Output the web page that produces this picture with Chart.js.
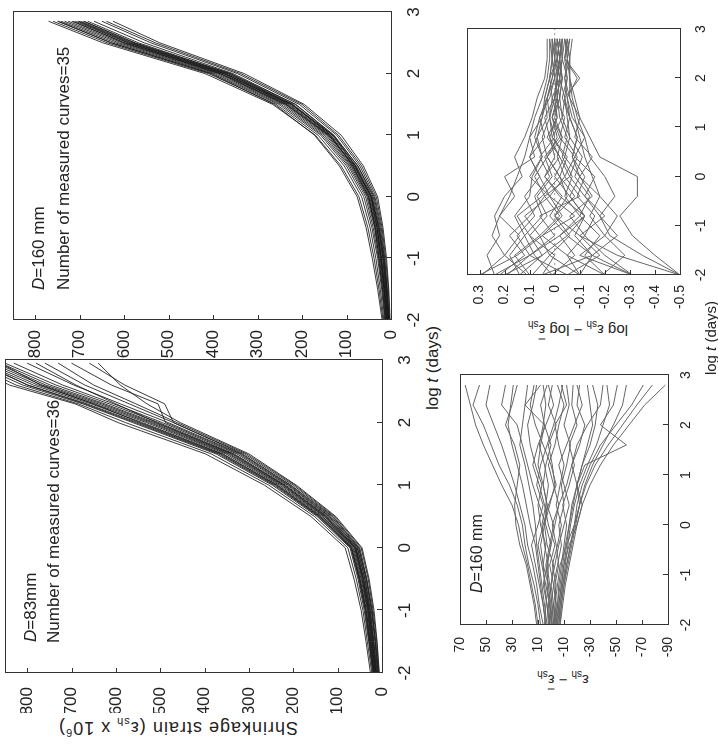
<!DOCTYPE html>
<html>
<head>
<meta charset="utf-8">
<title>Shrinkage strain curves</title>
<script src="https://cdn.jsdelivr.net/npm/chart.js@4.4.1/dist/chart.umd.min.js"></script>
<style>
  html, body { margin: 0; padding: 0; background: #fff; overflow: hidden; }
  /* the scanned page lies a quarter turn anticlockwise */
  #page { position: absolute; left: 0; top: 0; width: 744px; height: 718px;
          transform-origin: 0 0; transform: translate(0, 744px) rotate(-90deg);
          font-family: 'Liberation Sans', Arial, sans-serif; color: #222; }
  #page canvas { position: absolute; }
  .txt { position: absolute; white-space: nowrap; line-height: 1; }
  .vt { transform: translate(-50%, -50%) rotate(-90deg); }
  .ht { transform: translate(-50%, -50%); }
</style>
</head>
<body>
<div id="page">
  <canvas id="c83" width="359" height="419" style="left:31px;top:-7px"></canvas>
  <canvas id="c160" width="354" height="420" style="left:384px;top:1px"></canvas>
  <canvas id="cDev" width="296" height="250" style="left:79px;top:448px"></canvas>
  <canvas id="cLog" width="292" height="255" style="left:429px;top:455px"></canvas>

  <div class="txt" style="left:102px;top:22px;font-size:17px"><i>D</i>=83mm</div>
  <div class="txt" style="left:101px;top:45px;font-size:17px">Number of measured curves=36</div>
  <div class="txt" style="left:454px;top:30px;font-size:17px"><i>D</i>=160 mm</div>
  <div class="txt" style="left:454px;top:55px;font-size:17px">Number of measured curves=35</div>
  <div class="txt" style="left:151px;top:469px;font-size:16px"><i>D</i>=160 mm</div>

  <div class="txt vt" style="left:17px;top:178px;font-size:18px;letter-spacing:1px">Shrinkage strain (ε<sub style="font-size:11px">sh</sub> x 10<sup style="font-size:11px">6</sup>)</div>
  <div class="txt ht" style="left:376px;top:432px;font-size:17px">log <i>t</i> (days)</div>
  <div class="txt vt" style="left:66px;top:563px;font-size:15px">ε<sub style="font-size:10px">sh</sub> − <span style="text-decoration:overline">ε</span><sub style="font-size:10px">sh</sub></div>
  <div class="txt vt" style="left:416px;top:578px;font-size:15px">log ε<sub style="font-size:10px">sh</sub> − log <span style="text-decoration:overline">ε</span><sub style="font-size:10px">sh</sub></div>
  <div class="txt ht" style="left:406px;top:710px;font-size:15px">log <i>t</i> (days)</div>
</div>

<script>
// time axis (log days) used by the curves
const logT160 = [-2, -1.5, -1, -0.5, 0, 0.5, 1, 1.5, 2, 2.5, 2.85];
const logT83 = [-2, -1.5, -1, -0.5, 0, 0.5, 1, 1.5, 2, 2.3, 2.6, 2.95];
const logTDev = [-2, -1.6, -1.2, -0.8, -0.4, 0, 0.4, 0.8, 1.2, 1.6, 2, 2.4, 2.8];

// tick labels
const logTTicks = [-2, -1, 0, 1, 2, 3];
const strainTicks = [0, 100, 200, 300, 400, 500, 600, 700, 800];
const devTicks = [-90, -70, -50, -30, -10, 10, 30, 50, 70];
const logDevTicks = [-0.5, -0.4, -0.3, -0.2, -0.1, 0, 0.1, 0.2, 0.3];

// D = 83 mm, shrinkage strain x 1e6
const strain83 = [
  [8, 14, 22, 34, 50, 110, 200, 310, 470, 570, 670, 760],
  [10, 16, 24, 36, 53, 115, 207, 318, 482, 590, 695, 800],
  [12, 19, 27, 39, 56, 120, 213, 327, 495, 605, 720, 830],
  [13, 20, 28, 41, 58, 123, 217, 333, 503, 615, 735, 850],
  [14, 22, 30, 43, 60, 127, 221, 339, 512, 625, 748, 860],
  [15, 23, 31, 44, 61, 129, 224, 343, 518, 632, 758, 870],
  [16, 24, 32, 45, 62, 131, 227, 347, 524, 640, 766, 880],
  [17, 25, 33, 47, 64, 134, 231, 352, 531, 648, 776, 890],
  [18, 26, 35, 49, 66, 137, 235, 358, 540, 656, 786, 900],
  [19, 28, 37, 51, 69, 141, 240, 365, 550, 665, 798, 910],
  [21, 30, 40, 54, 72, 146, 247, 374, 562, 675, 810, 920],
  [23, 33, 43, 58, 77, 152, 255, 385, 578, 685, 825, 930],
  [26, 36, 47, 63, 83, 160, 265, 398, 595, 692, 840, 940],
  [6, 11, 18, 29, 45, 104, 193, 300, 455, 530, 590, 640],
  [9, 15, 23, 35, 52, 112, 205, 315, 470, 490, 580, 660],
  [11, 18, 26, 38, 55, 118, 210, 322, 488, 505, 610, 700],
  [14, 21, 29, 42, 59, 125, 220, 336, 508, 600, 690, 780],
  [18, 27, 36, 50, 68, 139, 237, 361, 545, 650, 770, 860],
  [20, 29, 38, 52, 70, 143, 243, 369, 556, 670, 800, 900],
  [7, 12, 20, 31, 47, 107, 196, 305, 462, 555, 650, 730]
];

// D = 160 mm, shrinkage strain x 1e6
const strain160 = [
  [2, 5, 10, 18, 30, 62, 112, 195, 330, 520, 625],
  [4, 8, 14, 22, 36, 70, 122, 206, 345, 540, 650],
  [5, 10, 16, 26, 40, 75, 128, 214, 355, 555, 668],
  [6, 11, 18, 28, 42, 78, 132, 220, 362, 568, 682],
  [7, 12, 19, 29, 44, 80, 135, 224, 368, 578, 692],
  [8, 13, 21, 31, 46, 83, 138, 228, 372, 586, 702],
  [8, 14, 22, 32, 48, 85, 140, 231, 376, 592, 710],
  [9, 15, 23, 34, 50, 88, 143, 234, 380, 598, 718],
  [10, 16, 24, 35, 52, 90, 146, 238, 385, 605, 726],
  [11, 17, 26, 37, 54, 93, 150, 242, 390, 612, 734],
  [12, 19, 28, 40, 57, 96, 154, 247, 396, 620, 742],
  [14, 21, 30, 43, 61, 100, 158, 252, 402, 628, 750],
  [16, 24, 34, 47, 66, 105, 164, 258, 410, 638, 760],
  [18, 27, 38, 52, 72, 112, 170, 266, 418, 648, 770],
  [3, 6, 12, 20, 33, 66, 118, 200, 338, 530, 640],
  [6, 10, 17, 27, 44, 82, 140, 236, 384, 600, 715],
  [10, 15, 22, 31, 45, 80, 130, 215, 360, 575, 690],
  [13, 19, 27, 36, 50, 86, 136, 222, 366, 582, 698],
  [20, 30, 42, 56, 76, 116, 172, 262, 405, 630, 748],
  [5, 9, 15, 24, 38, 74, 130, 225, 375, 590, 705]
];

// D = 160 mm, deviation from the mean curve
const dev160 = [
  [10, 12, 15, 18, 22, 25, 30, 38, 45, 52, 58, 62, 66],
  [8, 10, 13, 17, 20, 22, 26, 32, 40, 46, 52, 60, 55],
  [6, 9, 11, 14, 18, 20, 24, 28, 33, 38, 44, 50, 47],
  [4, 6, 8, 10, 12, 16, 19, 22, 26, 30, 33, 31, 29],
  [11, 13, 16, 19, 24, 27, 28, 26, 24, 28, 35, 30, 26],
  [3, 5, 7, 9, 11, 12, 14, 17, 20, 24, 22, 20, 18],
  [2, 3, 5, 6, 4, 8, 10, 7, 12, 16, 18, 14, 11],
  [5, 4, 2, 6, 8, 5, 3, 6, 10, 8, 5, 20, 8],
  [0, 1, 3, 2, 5, 7, 4, 2, 5, 9, 6, 4, 6],
  [-1, 0, 2, 4, 1, -2, 3, 6, 4, 0, 5, 8, 3],
  [1, 2, 0, -2, 3, 5, 1, -3, -1, 2, -4, 2, -1],
  [-2, -1, 1, 3, 0, -3, -6, -2, 2, -3, -6, -10, -5],
  [0, -2, -4, -1, -5, -8, -4, -7, -10, -6, -3, -12, -8],
  [-3, -4, -2, -5, -8, -6, -10, -8, -12, -15, -10, -14, -12],
  [-4, -5, -6, -8, -10, -12, -9, -14, -18, -14, -20, -16, -17],
  [-2, -3, -5, -7, -12, -18, -22, -20, -16, -22, -26, -20, -22],
  [-5, -6, -8, -10, -14, -20, -24, -20, -24, -28, -32, -30, -28],
  [-3, -5, -7, -9, -11, -14, -17, -20, -24, -30, -34, -36, -32],
  [-6, -7, -9, -11, -13, -15, -18, -22, -28, -35, -40, -45, -43],
  [-4, -6, -8, -10, -12, -14, -16, -20, -26, -58, -38, -48, -51],
  [-7, -8, -10, -12, -15, -18, -22, -26, -32, -40, -48, -55, -58],
  [-5, -7, -9, -12, -15, -18, -20, -24, -30, -38, -50, -62, -71],
  [-6, -8, -10, -13, -16, -19, -22, -27, -34, -44, -55, -66, -78],
  [-7, -9, -11, -14, -17, -20, -24, -30, -38, -48, -60, -72, -88],
  [2, 0, -2, 1, -3, 2, 5, 9, 14, 10, 4, -2, 2],
  [-1, 1, 4, 7, 10, 6, 2, -4, 0, 6, 12, 16, 13],
  [4, 6, 9, 12, 15, 10, 6, 11, 8, 3, -2, -6, -9],
  [-3, -2, 0, -3, -6, -10, -14, -10, -6, -12, -18, -24, -20],
  [1, 3, 6, 3, 0, 4, 9, 14, 18, 22, 26, 38, 35],
  [-2, -4, -3, -6, -4, -1, -6, -12, -16, -20, -28, -38, -40]
];

// D = 160 mm, log strain minus log mean strain
const logDev160 = [
  [0.29, 0.20, 0.25, 0.22, 0.18, 0.15, 0.12, 0.10, 0.08, 0.05, 0.03, 0.02, 0.02],
  [0.24, 0.27, 0.22, 0.24, 0.20, 0.13, 0.16, 0.12, 0.09, 0.07, 0.04, 0.03, 0.03],
  [0.19, 0.10, 0.15, 0.08, 0.12, 0.06, 0.10, 0.07, 0.05, 0.04, 0.02, 0.01, 0.01],
  [0.14, 0.18, 0.12, 0.16, 0.10, 0.09, 0.05, 0.08, 0.06, 0.03, 0.01, 0.00, 0.00],
  [0.09, 0.02, 0.06, -0.02, 0.04, 0.08, 0.03, 0.05, 0.02, 0.03, 0.01, -0.01, 0.00],
  [0.14, 0.05, -0.05, 0.02, -0.03, 0.04, 0.00, 0.02, 0.04, 0.00, -0.01, -0.02, -0.01],
  [0.01, 0.08, 0.12, 0.05, 0.08, 0.02, 0.06, 0.00, 0.02, 0.01, 0.02, -0.01, -0.02],
  [0.01, -0.08, -0.02, -0.10, -0.04, -0.07, -0.03, -0.05, -0.02, -0.01, -0.02, -0.03, -0.02],
  [-0.10, 0.02, -0.06, 0.00, -0.08, -0.02, -0.05, 0.01, -0.03, -0.02, -0.03, -0.02, -0.03],
  [-0.10, -0.15, -0.08, -0.12, -0.06, -0.10, -0.04, -0.06, -0.03, -0.04, -0.02, -0.03, -0.04],
  [-0.20, -0.05, 0.05, -0.03, 0.02, -0.04, -0.01, -0.03, 0.00, -0.02, -0.01, -0.02, -0.03],
  [-0.20, -0.12, -0.18, -0.10, -0.14, -0.08, -0.11, -0.06, -0.05, -0.04, -0.05, -0.04, -0.05],
  [-0.31, -0.20, -0.12, -0.16, -0.09, -0.12, -0.07, -0.09, -0.06, -0.05, -0.04, -0.05, -0.04],
  [-0.31, -0.10, -0.20, -0.14, -0.18, -0.15, -0.12, -0.10, -0.08, -0.06, -0.06, -0.05, -0.06],
  [-0.50, -0.25, -0.10, 0.00, -0.05, -0.02, 0.03, -0.01, 0.01, -0.01, -0.02, -0.01, -0.02],
  [-0.50, -0.35, -0.22, -0.18, -0.24, -0.20, -0.14, -0.12, -0.09, -0.07, -0.06, -0.06, -0.07],
  [-0.50, -0.40, -0.31, -0.26, -0.33, -0.33, -0.18, -0.14, -0.10, -0.08, -0.06, -0.06, -0.05],
  [0.30, 0.15, 0.05, -0.08, 0.02, 0.06, 0.10, 0.04, 0.06, 0.02, 0.00, 0.01, 0.00],
  [0.22, 0.12, 0.18, 0.10, 0.04, -0.06, -0.02, 0.03, -0.01, 0.01, -0.02, 0.00, -0.01],
  [0.11, 0.20, 0.14, 0.22, 0.16, 0.20, 0.08, 0.10, 0.05, 0.03, 0.00, 0.01, 0.01],
  [0.05, -0.15, -0.25, -0.18, -0.12, -0.16, -0.08, -0.12, -0.07, -0.05, -0.09, -0.04, -0.05],
  [-0.05, 0.10, 0.00, 0.06, -0.10, -0.04, -0.08, -0.02, -0.04, 0.00, -0.03, -0.01, -0.02],
  [-0.19, -0.28, -0.20, -0.25, -0.18, -0.10, -0.15, -0.08, -0.10, -0.06, -0.04, -0.06, -0.04],
  [0.24, 0.10, -0.02, -0.12, -0.06, 0.00, -0.04, 0.01, 0.02, 0.00, -0.01, 0.00, 0.01],
  [-0.10, -0.05, -0.12, -0.06, -0.15, -0.10, -0.07, -0.09, -0.06, -0.04, -0.10, -0.04, -0.06],
  [0.20, 0.05, 0.10, 0.03, 0.07, 0.01, 0.04, -0.02, 0.01, -0.01, 0.00, -0.02, -0.01],
  [-0.05, -0.18, -0.10, -0.20, -0.12, -0.06, -0.09, -0.04, -0.06, -0.03, -0.05, -0.03, -0.03],
  [0.10, 0.16, 0.06, 0.12, 0.02, 0.10, 0.05, 0.07, 0.03, 0.04, 0.02, 0.01, 0.02],
  [-0.31, -0.15, -0.05, -0.12, -0.02, 0.04, -0.02, 0.02, -0.01, 0.00, -0.01, -0.02, -0.01],
  [0.05, 0.00, 0.10, 0.15, 0.05, -0.02, 0.03, -0.03, 0.01, -0.02, -0.03, -0.02, -0.03]
];
const zeroLine = [0, 0];

// box round the plot plus short ticks pointing inwards
const frame = {
  id: 'frame',
  afterDatasetsDraw(chart) {
    const { ctx, chartArea: a, scales: { x, y } } = chart;
    ctx.save();
    ctx.strokeStyle = '#333';
    ctx.lineWidth = 1;
    ctx.strokeRect(Math.round(a.left) + 0.5, Math.round(a.top) + 0.5, Math.round(a.width), Math.round(a.height));
    ctx.beginPath();
    x.ticks.forEach(t => {
      const p = Math.round(x.getPixelForValue(t.value)) + 0.5;
      ctx.moveTo(p, a.bottom);
      ctx.lineTo(p, a.bottom - 5);
    });
    y.ticks.forEach(t => {
      const p = Math.round(y.getPixelForValue(t.value)) + 0.5;
      ctx.moveTo(a.left, p);
      ctx.lineTo(a.left + 5, p);
    });
    ctx.stroke();
    ctx.restore();
  }
};

function makePanel(id, times, curves, cfg) {
  const sets = curves.map(c => ({
    data: c.map((v, i) => ({ x: times[i], y: v })),
    borderColor: cfg.color,
    borderWidth: 1,
    pointRadius: 0,
    tension: 0,
    fill: false
  }));
  if (cfg.zero) {
    sets.push({
      data: [{ x: -2, y: zeroLine[0] }, { x: 3, y: zeroLine[1] }],
      borderColor: '#999', borderWidth: 1, borderDash: [2, 3], pointRadius: 0, fill: false
    });
  }
  const font = { family: "'Liberation Sans', Arial, sans-serif", size: cfg.font };
  return new Chart(document.getElementById(id), {
    type: 'line',
    data: { datasets: sets },
    options: {
      responsive: false,
      animation: false,
      events: [],
      layout: { autoPadding: false, padding: { top: 12, right: 6, left: 0, bottom: 0 } },
      plugins: { legend: { display: false }, tooltip: { enabled: false } },
      scales: {
        x: {
          type: 'linear', min: -2, max: 3,
          grid: { display: false }, border: { display: false },
          afterBuildTicks: s => { s.ticks = logTTicks.map(v => ({ value: v })); },
          afterFit: s => { s.height = 30; s.paddingLeft = 0; s.paddingRight = 0; },
          ticks: { autoSkip: false, maxRotation: 0, padding: cfg.xPad, color: '#222', font }
        },
        y: {
          type: 'linear', min: cfg.min, max: cfg.max,
          grid: { display: false }, border: { display: false },
          afterBuildTicks: s => { s.ticks = cfg.ticks.map(v => ({ value: v })); },
          afterFit: s => { s.width = 40; s.paddingTop = 0; s.paddingBottom = 0; },
          ticks: { autoSkip: false, padding: cfg.yPad, color: '#222', font,
                   callback: v => String(Math.round(v * 10) / 10) }
        }
      }
    },
    plugins: [frame]
  });
}

makePanel('c83', logT83, strain83,
  { min: 0, max: 850, ticks: strainTicks, color: 'rgba(25,25,25,0.85)', font: 17, xPad: 5, yPad: 6 });
makePanel('c160', logT160, strain160,
  { min: 0, max: 850, ticks: strainTicks, color: 'rgba(25,25,25,0.85)', font: 17, xPad: 5, yPad: 2 });
makePanel('cDev', logTDev, dev160,
  { min: -90, max: 70, ticks: devTicks, color: '#666', font: 14, xPad: 2, yPad: 4 });
makePanel('cLog', logTDev, logDev160,
  { min: -0.5, max: 0.35, ticks: logDevTicks, color: '#666', font: 14, xPad: 5, yPad: 2, zero: true });
</script>
</body>
</html>
